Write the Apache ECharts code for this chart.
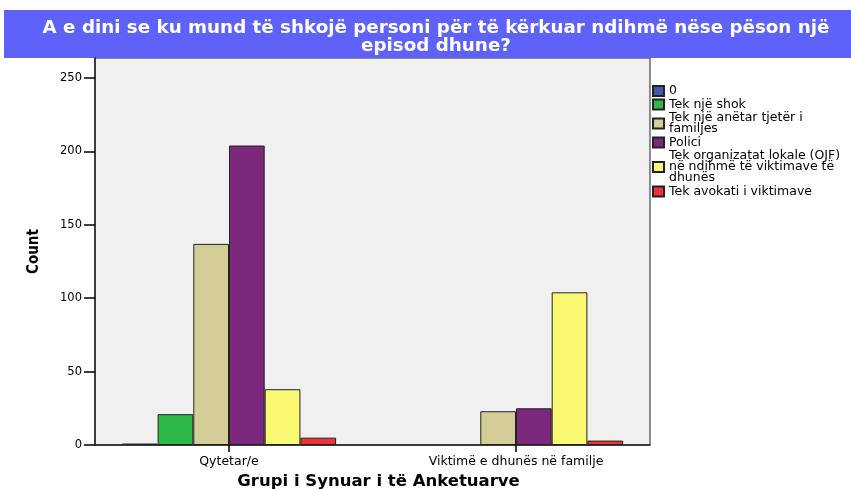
<!DOCTYPE html>
<html><head><meta charset="utf-8">
<script src="https://cdn.jsdelivr.net/npm/echarts@6/dist/echarts.min.js"></script>
<style>html,body{margin:0;padding:0;background:#fff}#c{width:851px;height:489px}</style>
</head><body><div id="c"></div>
<script>
const titleText = 'A e dini se ku mund të shkojë personi për të kërkuar ndihmë nëse pëson një\nepisod dhune?';
const categories = ['Qytetar/e', 'Viktimë e dhunës në familje'];
const seriesNames = ['0', 'Tek një shok', 'Tek një anëtar tjetër i\nfamiljes', 'Polici', 'Tek organizatat lokale (OJF)\nnë ndihmë të viktimave të\ndhunës', 'Tek avokati i viktimave'];
const v0 = [1, null];
const vShok = [21, null];
const vFamilje = [137, 23];
const vPolici = [204, 25];
const vOJF = [38, 104];
const vAvokati = [5, 3];
const seriesValues = [v0, vShok, vFamilje, vPolici, vOJF, vAvokati];
const colors = ['#3E58AC', '#2EB848', '#D3CE97', '#7B287D', '#FBF873', '#EF3338'];
const yTicks = [0, 50, 100, 150, 200, 250];

const chart = echarts.init(document.getElementById('c'));
chart.setOption({
  animation: false,
  graphic: [
    { type: 'rect', shape: { x: 4, y: 10, width: 847, height: 48 }, style: { fill: '#5E62F8' }, silent: true, z: 0 },
    { type: 'text', x: 436, y: 37, style: { text: titleText, fill: '#fff', font: 'bold 18.3px DejaVu Sans', textAlign: 'center', textVerticalAlign: 'middle', lineHeight: 18 }, z: 1 }
  ],
  legend: {
    orient: 'vertical', left: 652, top: 84.5, padding: 0, itemWidth: 11, itemHeight: 10, itemGap: 0.5, icon: 'rect',
    textStyle: { fontFamily: 'DejaVu Sans', fontSize: 12.5, color: '#000', lineHeight: 11 },
    data: seriesNames
  },
  grid: [
    { left: 95, right: 201, top: 58, bottom: 44, outerBoundsMode: 'none', containLabel: false, show: true, backgroundColor: '#F0F0F0', borderColor: '#222', borderWidth: 1 },
    { left: 85.5, right: 191.5, top: 58, bottom: 44, outerBoundsMode: 'none', containLabel: false }
  ],
  xAxis: [
    { gridIndex: 0, type: 'category', data: ['x'], axisLine: { lineStyle: { color: '#222', width: 1.5 } }, axisTick: { show: false }, axisLabel: { show: false },
      name: 'Grupi i Synuar i të Anketuarve', nameLocation: 'middle', nameGap: 28,
      nameTextStyle: { fontFamily: 'DejaVu Sans', fontWeight: 'bold', fontSize: 16.5, color: '#000', padding: [0, 0, 0, 12] } },
    { gridIndex: 1, type: 'category', data: categories, axisLine: { show: false },
      axisTick: { show: true, alignWithLabel: true, length: 7, lineStyle: { color: '#000', width: 1.5 } },
      axisLabel: { fontFamily: 'DejaVu Sans', fontSize: 12.5, color: '#000', margin: 10 } }
  ],
  yAxis: [
    { gridIndex: 0, type: 'value', min: 0, max: 263.6, interval: 50,
      axisLine: { show: true, lineStyle: { color: '#222', width: 1.5 } },
      axisTick: { show: true, length: 11, lineStyle: { color: '#000', width: 1.5 }, inside: false },
      splitLine: { show: false },
      axisLabel: { fontFamily: 'DejaVu Sans', fontSize: 11.5, color: '#000', margin: 13, showMaxLabel: false,
        formatter: v => yTicks.indexOf(v) >= 0 ? String(v) : '' },
      name: 'Count', nameLocation: 'middle', nameGap: 53, nameRotate: 90,
      nameTextStyle: { fontFamily: 'DejaVu Sans Condensed, DejaVu Sans', fontWeight: 'bold', fontSize: 15, color: '#000' } },
    { gridIndex: 1, type: 'value', min: 0, max: 263.6, show: false, splitLine: { show: false } }
  ],
  series: seriesValues.map((vals, i) => ({
    type: 'bar', name: seriesNames[i], xAxisIndex: 1, yAxisIndex: 1, data: vals,
    barWidth: 35.7, barGap: '0%',
    itemStyle: { color: colors[i], borderColor: '#222', borderWidth: 1 }
  }))
});
</script></body></html>
